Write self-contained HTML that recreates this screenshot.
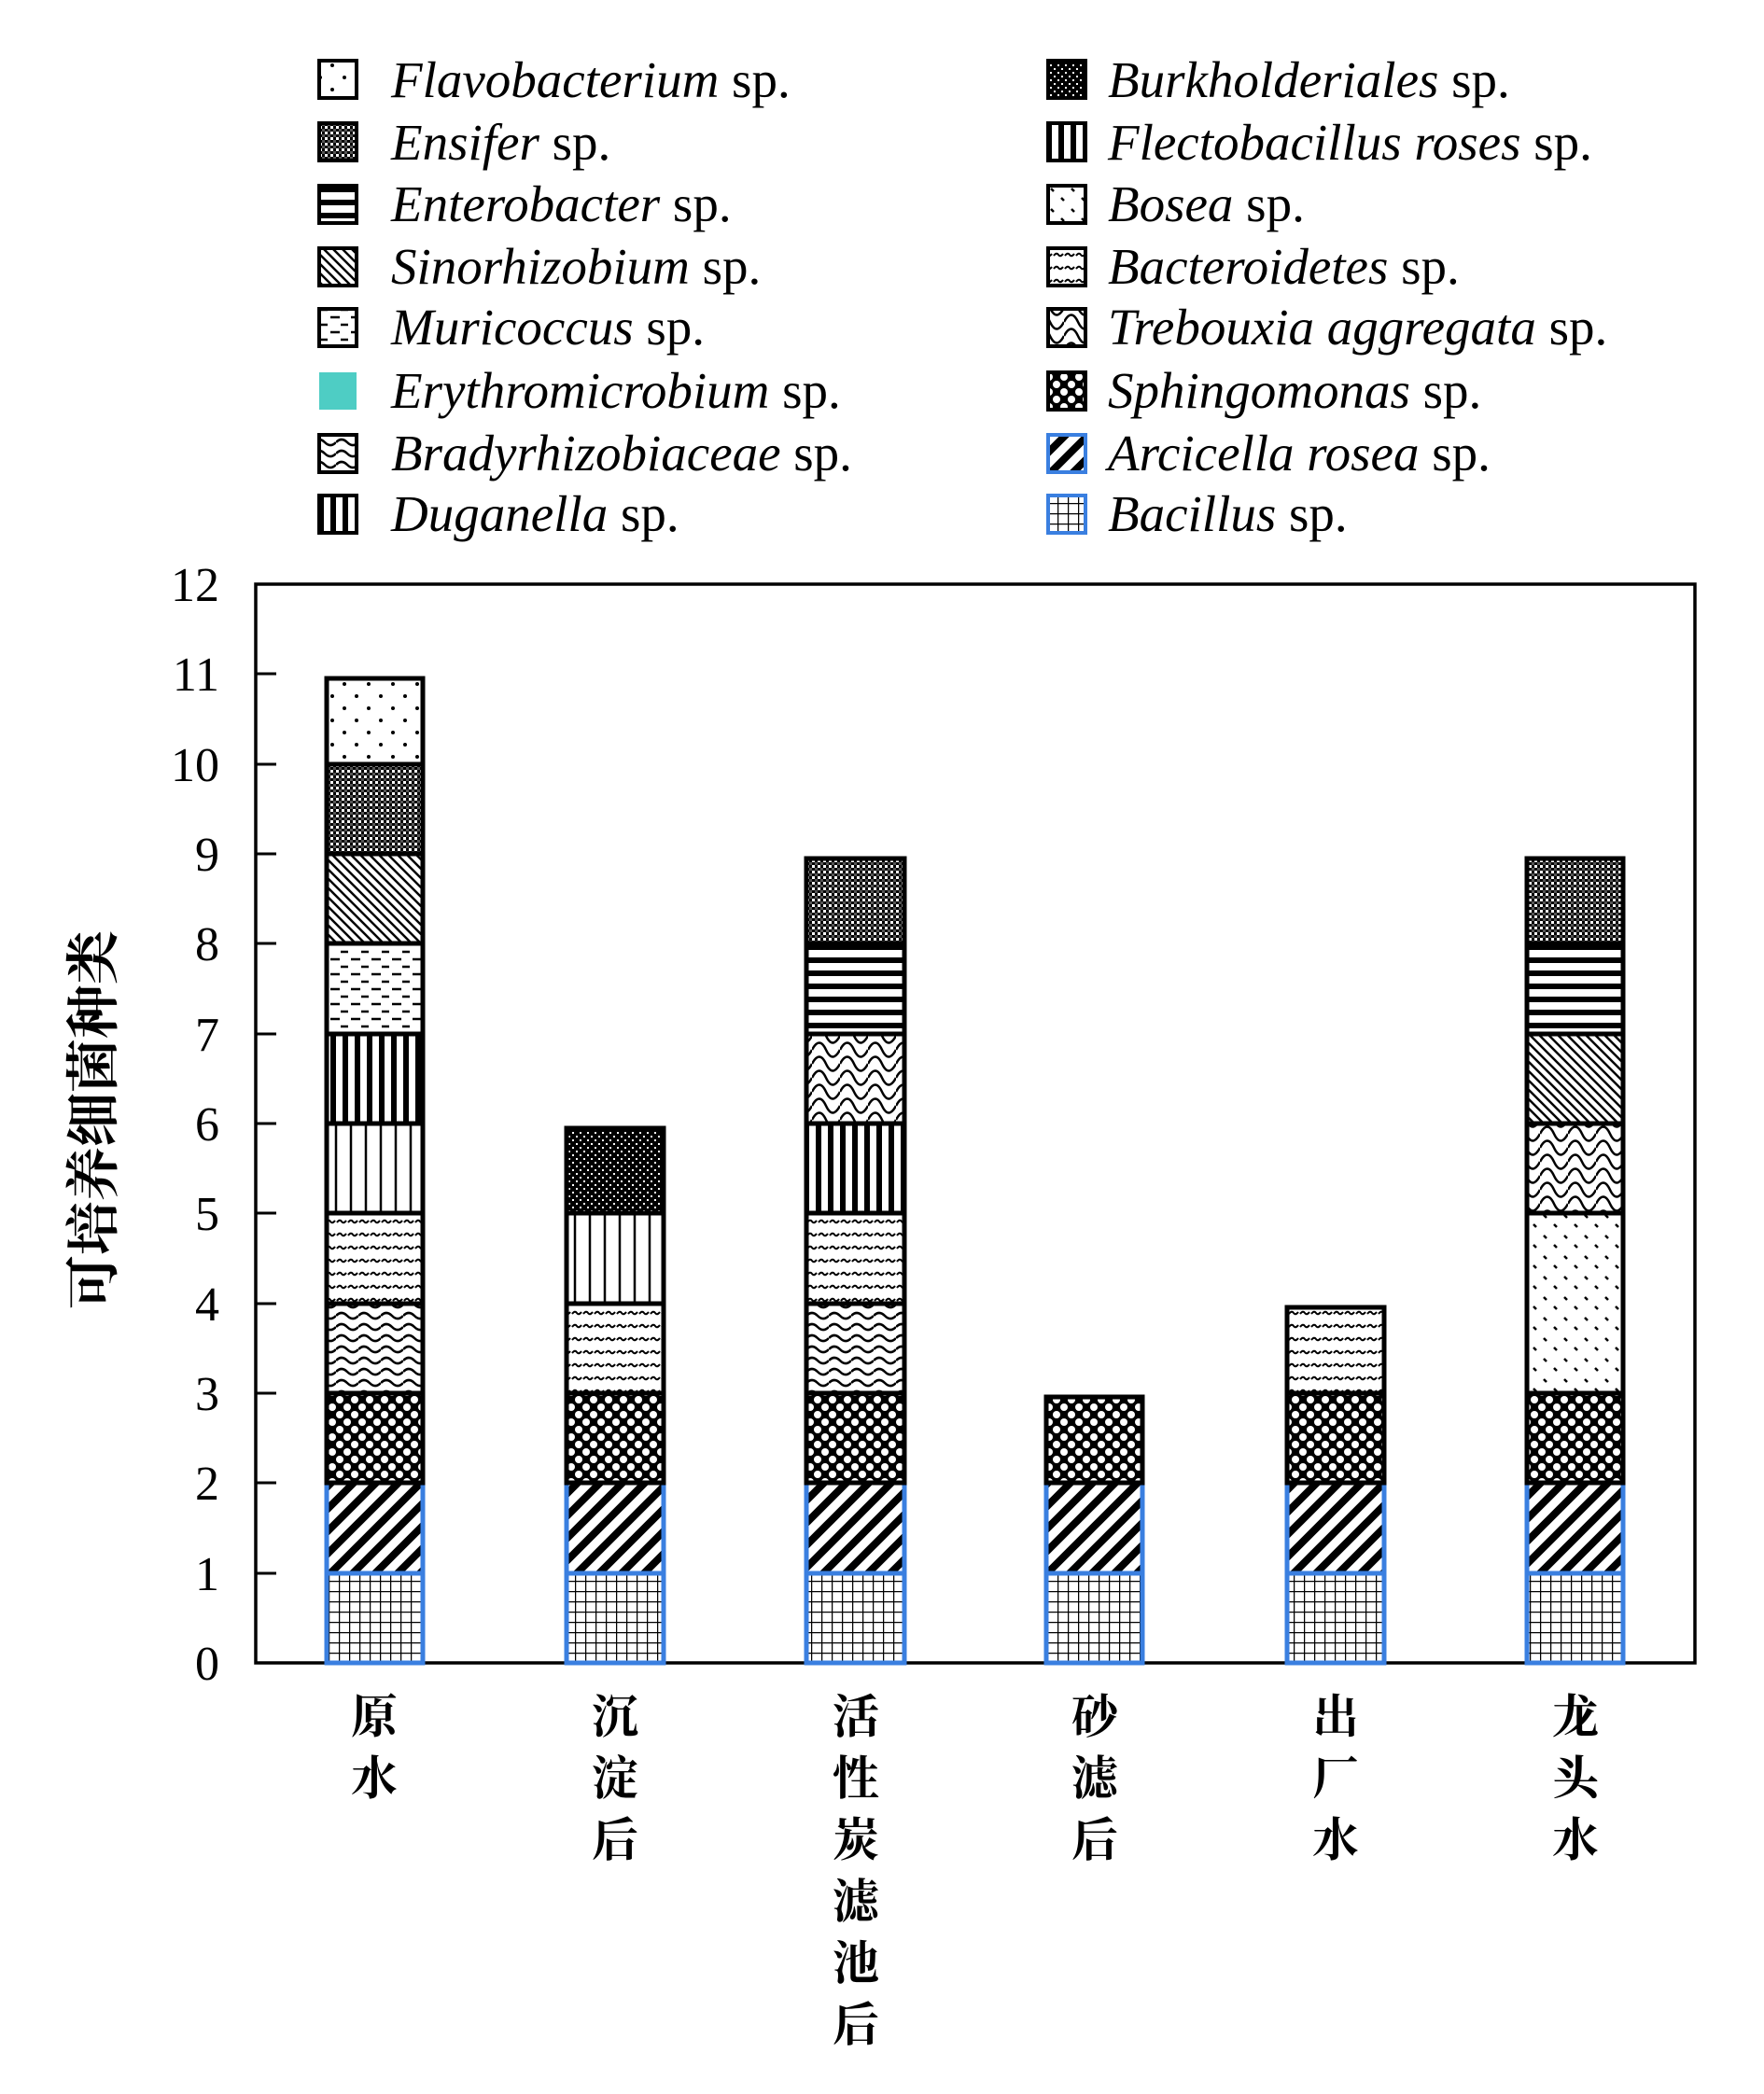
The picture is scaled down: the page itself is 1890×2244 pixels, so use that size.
<!DOCTYPE html>
<html><head><meta charset="utf-8"><style>
html,body{margin:0;padding:0;background:#fff}
svg{display:block}
.t{font-family:"Liberation Serif","Noto Serif CJK SC",serif;font-size:52px;fill:#000}
.lg{font-family:"Liberation Serif",serif;font-size:55px;fill:#000}
.cj{font-family:"Noto Serif CJK SC","Noto Sans CJK SC",serif;font-size:50px;font-weight:bold;fill:#000}
</style></head><body>
<svg width="1890" height="2244" viewBox="0 0 1890 2244" xmlns="http://www.w3.org/2000/svg">
<defs>
<pattern id="grid" width="11" height="11" patternUnits="userSpaceOnUse"><rect width="11" height="11" fill="#fff"/><path d="M0 0H11M0 0V11" stroke="#000" stroke-width="2.5"/></pattern>
<pattern id="diag" width="24" height="24" patternUnits="userSpaceOnUse"><rect width="24" height="24" fill="#fff"/><path d="M-6 30L30 -6M-18 18L18 -18M6 42L42 6" stroke="#000" stroke-width="8"/></pattern>
<pattern id="circ" width="16" height="16" patternUnits="userSpaceOnUse"><rect width="16" height="16" fill="#000"/><circle cx="4" cy="4" r="4" fill="#fff"/><circle cx="12" cy="12" r="4" fill="#fff"/></pattern>
<pattern id="wave" width="24" height="12" patternUnits="userSpaceOnUse"><rect width="24" height="12" fill="#fff"/><path d="M0 6Q6 0 12 6T24 6" fill="none" stroke="#000" stroke-width="2.5"/></pattern>
<pattern id="tilde" width="12" height="14" patternUnits="userSpaceOnUse"><rect width="12" height="14" fill="#fff"/><path d="M1 8Q4 4 6 7T11 6" fill="none" stroke="#000" stroke-width="2"/></pattern>
<pattern id="vthin" width="16" height="10" patternUnits="userSpaceOnUse"><rect width="16" height="10" fill="#fff"/><path d="M8 0V10" stroke="#000" stroke-width="2.5"/></pattern>
<pattern id="vthick" width="13" height="10" patternUnits="userSpaceOnUse"><rect width="13" height="10" fill="#fff"/><path d="M6 0V10" stroke="#000" stroke-width="6"/></pattern>
<pattern id="dash" width="22" height="16" patternUnits="userSpaceOnUse"><rect width="22" height="16" fill="#fff"/><path d="M2 4H12M13 12H21" stroke="#000" stroke-width="2.5"/></pattern>
<pattern id="dthin" width="10" height="10" patternUnits="userSpaceOnUse"><rect width="10" height="10" fill="#fff"/><path d="M-2 -2L12 12M-2 8L2 12M8 -2L12 2" stroke="#000" stroke-width="2.5"/></pattern>
<pattern id="check" width="6" height="6" patternUnits="userSpaceOnUse"><rect width="6" height="6" fill="#fff"/><rect width="3" height="3" fill="#000"/><rect x="3" y="3" width="3" height="3" fill="#000"/><rect x="3" width="3" height="3" fill="#555"/></pattern>
<pattern id="check2" width="8" height="8" patternUnits="userSpaceOnUse"><rect width="8" height="8" fill="#000"/><rect x="1" y="1" width="2" height="2" fill="#fff"/><rect x="5" y="5" width="2" height="2" fill="#fff"/></pattern>
<pattern id="dots" width="26" height="26" patternUnits="userSpaceOnUse"><rect width="26" height="26" fill="#fff"/><circle cx="5" cy="5" r="2" fill="#000"/><circle cx="18" cy="18" r="2" fill="#000"/></pattern>
<pattern id="dots2" width="22" height="22" patternUnits="userSpaceOnUse"><rect width="22" height="22" fill="#fff"/><path d="M4 4l3 3M15 14l3 3" stroke="#000" stroke-width="2.5"/></pattern>
<pattern id="hl" width="10" height="14" patternUnits="userSpaceOnUse"><rect width="10" height="14" fill="#fff"/><path d="M0 7H10" stroke="#000" stroke-width="6"/></pattern>
<pattern id="scale" width="30" height="30" patternUnits="userSpaceOnUse"><rect width="30" height="30" fill="#fff"/><path d="M0 15Q8 0 15 15T30 15M0 0Q8 -15 15 0T30 0M0 30Q8 15 15 30T30 30" fill="none" stroke="#000" stroke-width="2.5"/></pattern>
</defs>
<rect width="1890" height="2244" fill="#fff"/>
<g stroke="#000" stroke-width="4">
<rect x="342" y="65" width="40" height="40" fill="url(#dots)"/>
<rect x="342" y="132" width="40" height="40" fill="url(#check)"/>
<rect x="342" y="199" width="40" height="40" fill="url(#hl)"/>
<rect x="342" y="266" width="40" height="40" fill="url(#dthin)"/>
<rect x="342" y="331" width="40" height="40" fill="url(#dash)"/>
<rect x="342" y="399" width="40" height="40" fill="#4ecdc4" stroke="none"/>
<rect x="342" y="466" width="40" height="40" fill="url(#wave)"/>
<rect x="342" y="531" width="40" height="40" fill="url(#vthick)"/>
<rect x="1123" y="65" width="40" height="40" fill="url(#check2)"/>
<rect x="1123" y="132" width="40" height="40" fill="url(#vthick)"/>
<rect x="1123" y="199" width="40" height="40" fill="url(#dots2)"/>
<rect x="1123" y="266" width="40" height="40" fill="url(#tilde)"/>
<rect x="1123" y="331" width="40" height="40" fill="url(#scale)"/>
<rect x="1123" y="399" width="40" height="40" fill="url(#circ)"/>
<rect x="1123" y="466" width="40" height="40" fill="url(#diag)" stroke="#3a7fe0"/>
<rect x="1123" y="531" width="40" height="40" fill="url(#grid)" stroke="#3a7fe0"/>
</g>
<g class="lg">
<text x="419" y="104"><tspan font-style="italic">Flavobacterium</tspan> sp.</text>
<text x="419" y="171"><tspan font-style="italic">Ensifer</tspan> sp.</text>
<text x="419" y="237"><tspan font-style="italic">Enterobacter</tspan> sp.</text>
<text x="419" y="304"><tspan font-style="italic">Sinorhizobium</tspan> sp.</text>
<text x="419" y="369"><tspan font-style="italic">Muricoccus</tspan> sp.</text>
<text x="419" y="437"><tspan font-style="italic">Erythromicrobium</tspan> sp.</text>
<text x="419" y="504"><tspan font-style="italic">Bradyrhizobiaceae</tspan> sp.</text>
<text x="419" y="569"><tspan font-style="italic">Duganella</tspan> sp.</text>
<text x="1187" y="104"><tspan font-style="italic">Burkholderiales</tspan> sp.</text>
<text x="1187" y="171"><tspan font-style="italic">Flectobacillus roses</tspan> sp.</text>
<text x="1187" y="237"><tspan font-style="italic">Bosea</tspan> sp.</text>
<text x="1187" y="304"><tspan font-style="italic">Bacteroidetes</tspan> sp.</text>
<text x="1187" y="369"><tspan font-style="italic">Trebouxia aggregata</tspan> sp.</text>
<text x="1187" y="437"><tspan font-style="italic">Sphingomonas</tspan> sp.</text>
<text x="1187" y="504"><tspan font-style="italic">Arcicella rosea</tspan> sp.</text>
<text x="1187" y="569"><tspan font-style="italic">Bacillus</tspan> sp.</text>
</g>
<rect x="274" y="626" width="1542" height="1156" fill="none" stroke="#000" stroke-width="3.5"/>
<g stroke="#000" stroke-width="3">
<path d="M274 1686h22M274 1589h22M274 1493h22M274 1397h22M274 1300h22M274 1204h22M274 1108h22M274 1011h22M274 915h22M274 819h22M274 722h22"/>
</g>
<g class="t" text-anchor="end">
<text x="235" y="1800">0</text><text x="235" y="1704">1</text><text x="235" y="1607">2</text><text x="235" y="1511">3</text><text x="235" y="1415">4</text><text x="235" y="1318">5</text><text x="235" y="1222">6</text><text x="235" y="1126">7</text><text x="235" y="1029">8</text><text x="235" y="933">9</text><text x="235" y="837">10</text><text x="235" y="740">11</text><text x="235" y="644">12</text>
</g>
<text transform="translate(120,1200) rotate(-90)" text-anchor="middle" style="font-family:'Noto Serif CJK SC','Noto Sans CJK SC',serif;font-size:58px;font-weight:bold;fill:#000">可培养细菌种类</text>
<g class="cj" text-anchor="middle">
<text x="401" y="1857">原</text><text x="401" y="1923">水</text>
<text x="659" y="1857">沉</text><text x="659" y="1923">淀</text><text x="659" y="1989">后</text>
<text x="917" y="1857">活</text><text x="917" y="1923">性</text><text x="917" y="1989">炭</text><text x="917" y="2055">滤</text><text x="917" y="2121">池</text><text x="917" y="2187">后</text>
<text x="1173" y="1857">砂</text><text x="1173" y="1923">滤</text><text x="1173" y="1989">后</text>
<text x="1431" y="1857">出</text><text x="1431" y="1923">厂</text><text x="1431" y="1989">水</text>
<text x="1688" y="1857">龙</text><text x="1688" y="1923">头</text><text x="1688" y="1989">水</text>
</g>
<g stroke-width="5">
<rect x="350" y="1686" width="103" height="96" fill="url(#grid)" stroke="#3a7fe0"/>
<rect x="350" y="1589" width="103" height="97" fill="url(#diag)" stroke="#3a7fe0"/>
<rect x="350" y="1493" width="103" height="96" fill="url(#circ)" stroke="#000"/>
<rect x="350" y="1397" width="103" height="96" fill="url(#wave)" stroke="#000"/>
<rect x="350" y="1300" width="103" height="97" fill="url(#tilde)" stroke="#000"/>
<rect x="350" y="1204" width="103" height="96" fill="url(#vthin)" stroke="#000"/>
<rect x="350" y="1108" width="103" height="96" fill="url(#vthick)" stroke="#000"/>
<rect x="350" y="1011" width="103" height="97" fill="url(#dash)" stroke="#000"/>
<rect x="350" y="915" width="103" height="96" fill="url(#dthin)" stroke="#000"/>
<rect x="350" y="819" width="103" height="96" fill="url(#check)" stroke="#000"/>
<rect x="350" y="727" width="103" height="92" fill="url(#dots)" stroke="#000"/>
<rect x="607" y="1686" width="104" height="96" fill="url(#grid)" stroke="#3a7fe0"/>
<rect x="607" y="1589" width="104" height="97" fill="url(#diag)" stroke="#3a7fe0"/>
<rect x="607" y="1493" width="104" height="96" fill="url(#circ)" stroke="#000"/>
<rect x="607" y="1397" width="104" height="96" fill="url(#tilde)" stroke="#000"/>
<rect x="607" y="1300" width="104" height="97" fill="url(#vthin)" stroke="#000"/>
<rect x="607" y="1209" width="104" height="91" fill="url(#check2)" stroke="#000"/>
<rect x="864" y="1686" width="105" height="96" fill="url(#grid)" stroke="#3a7fe0"/>
<rect x="864" y="1589" width="105" height="97" fill="url(#diag)" stroke="#3a7fe0"/>
<rect x="864" y="1493" width="105" height="96" fill="url(#circ)" stroke="#000"/>
<rect x="864" y="1397" width="105" height="96" fill="url(#wave)" stroke="#000"/>
<rect x="864" y="1300" width="105" height="97" fill="url(#tilde)" stroke="#000"/>
<rect x="864" y="1204" width="105" height="96" fill="url(#vthick)" stroke="#000"/>
<rect x="864" y="1108" width="105" height="96" fill="url(#scale)" stroke="#000"/>
<rect x="864" y="1011" width="105" height="97" fill="url(#hl)" stroke="#000"/>
<rect x="864" y="920" width="105" height="91" fill="url(#check)" stroke="#000"/>
<rect x="1121" y="1686" width="103" height="96" fill="url(#grid)" stroke="#3a7fe0"/>
<rect x="1121" y="1589" width="103" height="97" fill="url(#diag)" stroke="#3a7fe0"/>
<rect x="1121" y="1497" width="103" height="92" fill="url(#circ)" stroke="#000"/>
<rect x="1379" y="1686" width="104" height="96" fill="url(#grid)" stroke="#3a7fe0"/>
<rect x="1379" y="1589" width="104" height="97" fill="url(#diag)" stroke="#3a7fe0"/>
<rect x="1379" y="1493" width="104" height="96" fill="url(#circ)" stroke="#000"/>
<rect x="1379" y="1401" width="104" height="92" fill="url(#tilde)" stroke="#000"/>
<rect x="1636" y="1686" width="103" height="96" fill="url(#grid)" stroke="#3a7fe0"/>
<rect x="1636" y="1589" width="103" height="97" fill="url(#diag)" stroke="#3a7fe0"/>
<rect x="1636" y="1493" width="103" height="96" fill="url(#circ)" stroke="#000"/>
<rect x="1636" y="1300" width="103" height="193" fill="url(#dots2)" stroke="#000"/>
<rect x="1636" y="1204" width="103" height="96" fill="url(#scale)" stroke="#000"/>
<rect x="1636" y="1108" width="103" height="96" fill="url(#dthin)" stroke="#000"/>
<rect x="1636" y="1011" width="103" height="97" fill="url(#hl)" stroke="#000"/>
<rect x="1636" y="920" width="103" height="91" fill="url(#check)" stroke="#000"/>
</g>
</svg>
</body></html>
